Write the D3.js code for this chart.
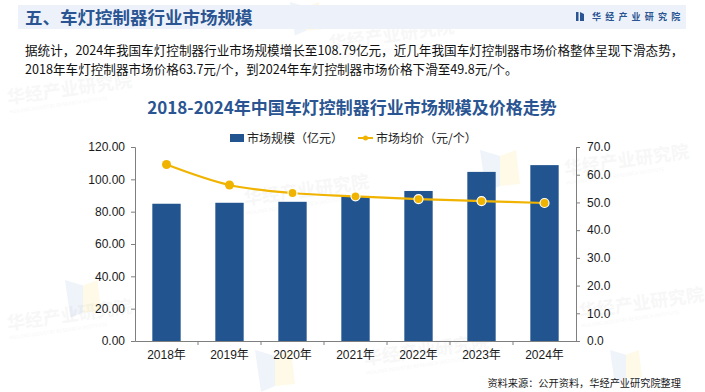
<!DOCTYPE html>
<html>
<head>
<meta charset="utf-8">
<script src="https://cdn.jsdelivr.net/npm/d3@7"></script>
<style>
  body { margin: 0; background: #fff; }
  text { font-family: "Noto Sans CJK SC", sans-serif; }
  .num { font-family: "Liberation Sans", "Noto Sans CJK SC", sans-serif; }
</style>
</head>
<body>
<svg id="chart" width="705" height="392"></svg>
<script>
"use strict";

// data
var years = ["2018年", "2019年", "2020年", "2021年", "2022年", "2023年", "2024年"];
var marketSize = [84.9, 85.5, 86.1, 89.5, 92.8, 104.6, 108.79]; // 亿元
var avgPrice = [63.7, 56.3, 53.4, 52.2, 51.2, 50.5, 49.8];     // 元/个
var leftTicks = [0, 20, 40, 60, 80, 100, 120];
var rightTicks = [0, 10, 20, 30, 40, 50, 60, 70];

var barColor = "#22558f",
  lineColor = "#f0b400",
  titleColor = "#2a5592";

var svg = d3.select("#chart");

// ---------- watermarks ----------
function watermark(x, y, size, angle) {
  var g = svg.append("g")
    .attr("transform", "translate(" + x + "," + y + ") rotate(" + angle + ")")
    .attr("opacity", 0.045);
  g.append("text")
    .attr("font-size", size)
    .attr("font-weight", "bold")
    .attr("fill", "#555")
    .text("华经产业研究院");
  g.append("text")
    .attr("y", size * 0.55)
    .attr("font-size", size * 0.28)
    .attr("fill", "#555")
    .attr("font-family", "Liberation Sans")
    .text("HUAJING INDUSTRY RESEARCH INSTITUTE");
}
function mark(x, y, s) {
  var g = svg.append("g").attr("transform", "translate(" + x + "," + y + ")");
  g.append("path")
    .attr("d", "M0,0 L" + 20 * s + "," + 6 * s + " L" + 20 * s + "," + 36 * s + " L" + 6 * s + "," + 42 * s + " Z")
    .attr("fill", "#c9d8f0").attr("opacity", 0.3);
  g.append("path")
    .attr("d", "M" + 20 * s + "," + 6 * s + " L" + 36 * s + ",0 L" + 40 * s + "," + 34 * s + " L" + 20 * s + "," + 36 * s + " Z")
    .attr("fill", "#fbeeb0").attr("opacity", 0.3);
}
mark(290, 2, 0.8);
mark(480, 150, 1);
mark(255, 350, 1);
mark(65, 280, 0.9);
mark(610, 350, 0.8);
watermark(8, 104, 18, -8);
watermark(330, 50, 18, -8);
watermark(245, 205, 18, -8);
watermark(565, 175, 18, -8);
watermark(365, 365, 18, -8);
watermark(8, 330, 18, -8);
watermark(580, 318, 18, -8);

// ---------- header ----------
svg.append("rect")
  .attr("x", 18).attr("y", 5).attr("width", 668).attr("height", 24)
  .attr("fill", "#edf2fa");
svg.append("text")
  .attr("x", 25).attr("y", 24)
  .attr("font-size", 17.5).attr("font-weight", "bold")
  .attr("fill", titleColor)
  .text("五、车灯控制器行业市场规模");
svg.append("rect").attr("x", 576).attr("y", 12).attr("width", 2.5).attr("height", 9).attr("fill", titleColor);
svg.append("path").attr("d", "M580,12 L584,14 L584,21 L580,21 Z").attr("fill", titleColor);
svg.append("text")
  .attr("x", 592).attr("y", 20)
  .attr("font-size", 9).attr("font-weight", "bold")
  .attr("letter-spacing", 4.2)
  .attr("fill", titleColor)
  .text("华经产业研究院");

// ---------- paragraph ----------
svg.append("text")
  .attr("x", 25).attr("y", 55)
  .attr("font-size", 12.6).attr("fill", "#111")
  .text("据统计，2024年我国车灯控制器行业市场规模增长至108.79亿元，近几年我国车灯控制器市场价格整体呈现下滑态势，");
svg.append("text")
  .attr("x", 25).attr("y", 74)
  .attr("font-size", 12.6).attr("fill", "#111")
  .text("2018年车灯控制器市场价格63.7元/个，到2024年车灯控制器市场价格下滑至49.8元/个。");

// ---------- chart title ----------
svg.append("text")
  .attr("x", 352).attr("y", 114)
  .attr("text-anchor", "middle")
  .attr("font-size", 17).attr("font-weight", "bold")
  .attr("fill", titleColor)
  .text("2018-2024年中国车灯控制器行业市场规模及价格走势");

// ---------- legend ----------
var legend = svg.append("g").attr("font-size", 12).attr("fill", "#222");
legend.append("rect").attr("x", 230).attr("y", 134).attr("width", 14).attr("height", 8).attr("fill", barColor);
legend.append("text").attr("x", 247).attr("y", 142.5).attr("fill", "#222").text("市场规模（亿元）");
legend.append("line").attr("x1", 358).attr("x2", 373).attr("y1", 138).attr("y2", 138)
  .attr("stroke", lineColor).attr("stroke-width", 2);
legend.append("circle").attr("cx", 365.5).attr("cy", 138).attr("r", 2.5).attr("fill", lineColor);
legend.append("text").attr("x", 376).attr("y", 142.5).attr("fill", "#222").text("市场均价（元/个）");

// ---------- scales ----------
var plotLeft = 135, plotRight = 576, plotTop = 147, plotBottom = 341;

var x = d3.scaleBand()
  .domain(years)
  .range([plotLeft, plotRight])
  .paddingInner(0.55)
  .paddingOuter(0.275);

var yL = d3.scaleLinear().domain([0, 120]).range([plotBottom, plotTop]);
var yR = d3.scaleLinear().domain([0, 70]).range([plotBottom, plotTop]);

// ---------- bars ----------
svg.append("g")
  .selectAll("rect")
  .data(marketSize)
  .enter()
  .append("rect")
  .attr("x", function(d, i) { return x(years[i]); })
  .attr("width", x.bandwidth())
  .attr("y", function(d) { return yL(d); })
  .attr("height", function(d) { return plotBottom - yL(d); })
  .attr("fill", barColor);

// ---------- axes ----------
var axisColor = "#7f7f7f";

var gL = svg.append("g")
  .attr("transform", "translate(" + plotLeft + ",0)")
  .call(d3.axisLeft(yL).tickValues(leftTicks).tickSize(4).tickPadding(6)
    .tickFormat(function(d) { return d3.format(".2f")(d); }));
var gR = svg.append("g")
  .attr("transform", "translate(" + plotRight + ",0)")
  .call(d3.axisRight(yR).tickValues(rightTicks).tickSize(4).tickPadding(7)
    .tickFormat(function(d) { return d3.format(".1f")(d); }));
var gX = svg.append("g")
  .attr("transform", "translate(0," + plotBottom + ")")
  .call(d3.axisBottom(x).tickSize(0).tickPadding(9));

[gL, gR, gX].forEach(function(g) {
  g.select(".domain").attr("stroke", axisColor);
  g.selectAll(".tick line").attr("stroke", axisColor);
  g.selectAll("text")
    .attr("class", "num")
    .attr("font-size", 12)
    .attr("fill", "#1a1a1a");
});

// category boundary ticks
var half = x.step() * x.paddingInner() / 2;
svg.append("g")
  .selectAll("line")
  .data(years.slice(1))
  .enter()
  .append("line")
  .attr("x1", function(d) { return x(d) - half; })
  .attr("x2", function(d) { return x(d) - half; })
  .attr("y1", plotBottom)
  .attr("y2", plotBottom + 4)
  .attr("stroke", axisColor);

// ---------- price line ----------
var cx = function(i) { return x(years[i]) + x.bandwidth() / 2; };
var line = d3.line()
  .x(function(d, i) { return cx(i); })
  .y(function(d) { return yR(d); })
  .curve(d3.curveCatmullRom.alpha(0.5));

svg.append("path")
  .datum(avgPrice)
  .attr("d", line)
  .attr("fill", "none")
  .attr("stroke", lineColor)
  .attr("stroke-width", 2.2);

svg.append("g")
  .selectAll("circle")
  .data(avgPrice)
  .enter()
  .append("circle")
  .attr("cx", function(d, i) { return cx(i); })
  .attr("cy", function(d) { return yR(d); })
  .attr("r", 4.5)
  .attr("fill", lineColor)
  .attr("stroke", function(d, i) { return i < 2 ? "none" : "#fff"; })
  .attr("stroke-width", 1.2);

// ---------- source ----------
svg.append("text")
  .attr("x", 681).attr("y", 387)
  .attr("text-anchor", "end")
  .attr("font-size", 10.2).attr("fill", "#1a1a1a")
  .text("资料来源：公开资料，华经产业研究院整理");
</script>
</body>
</html>
